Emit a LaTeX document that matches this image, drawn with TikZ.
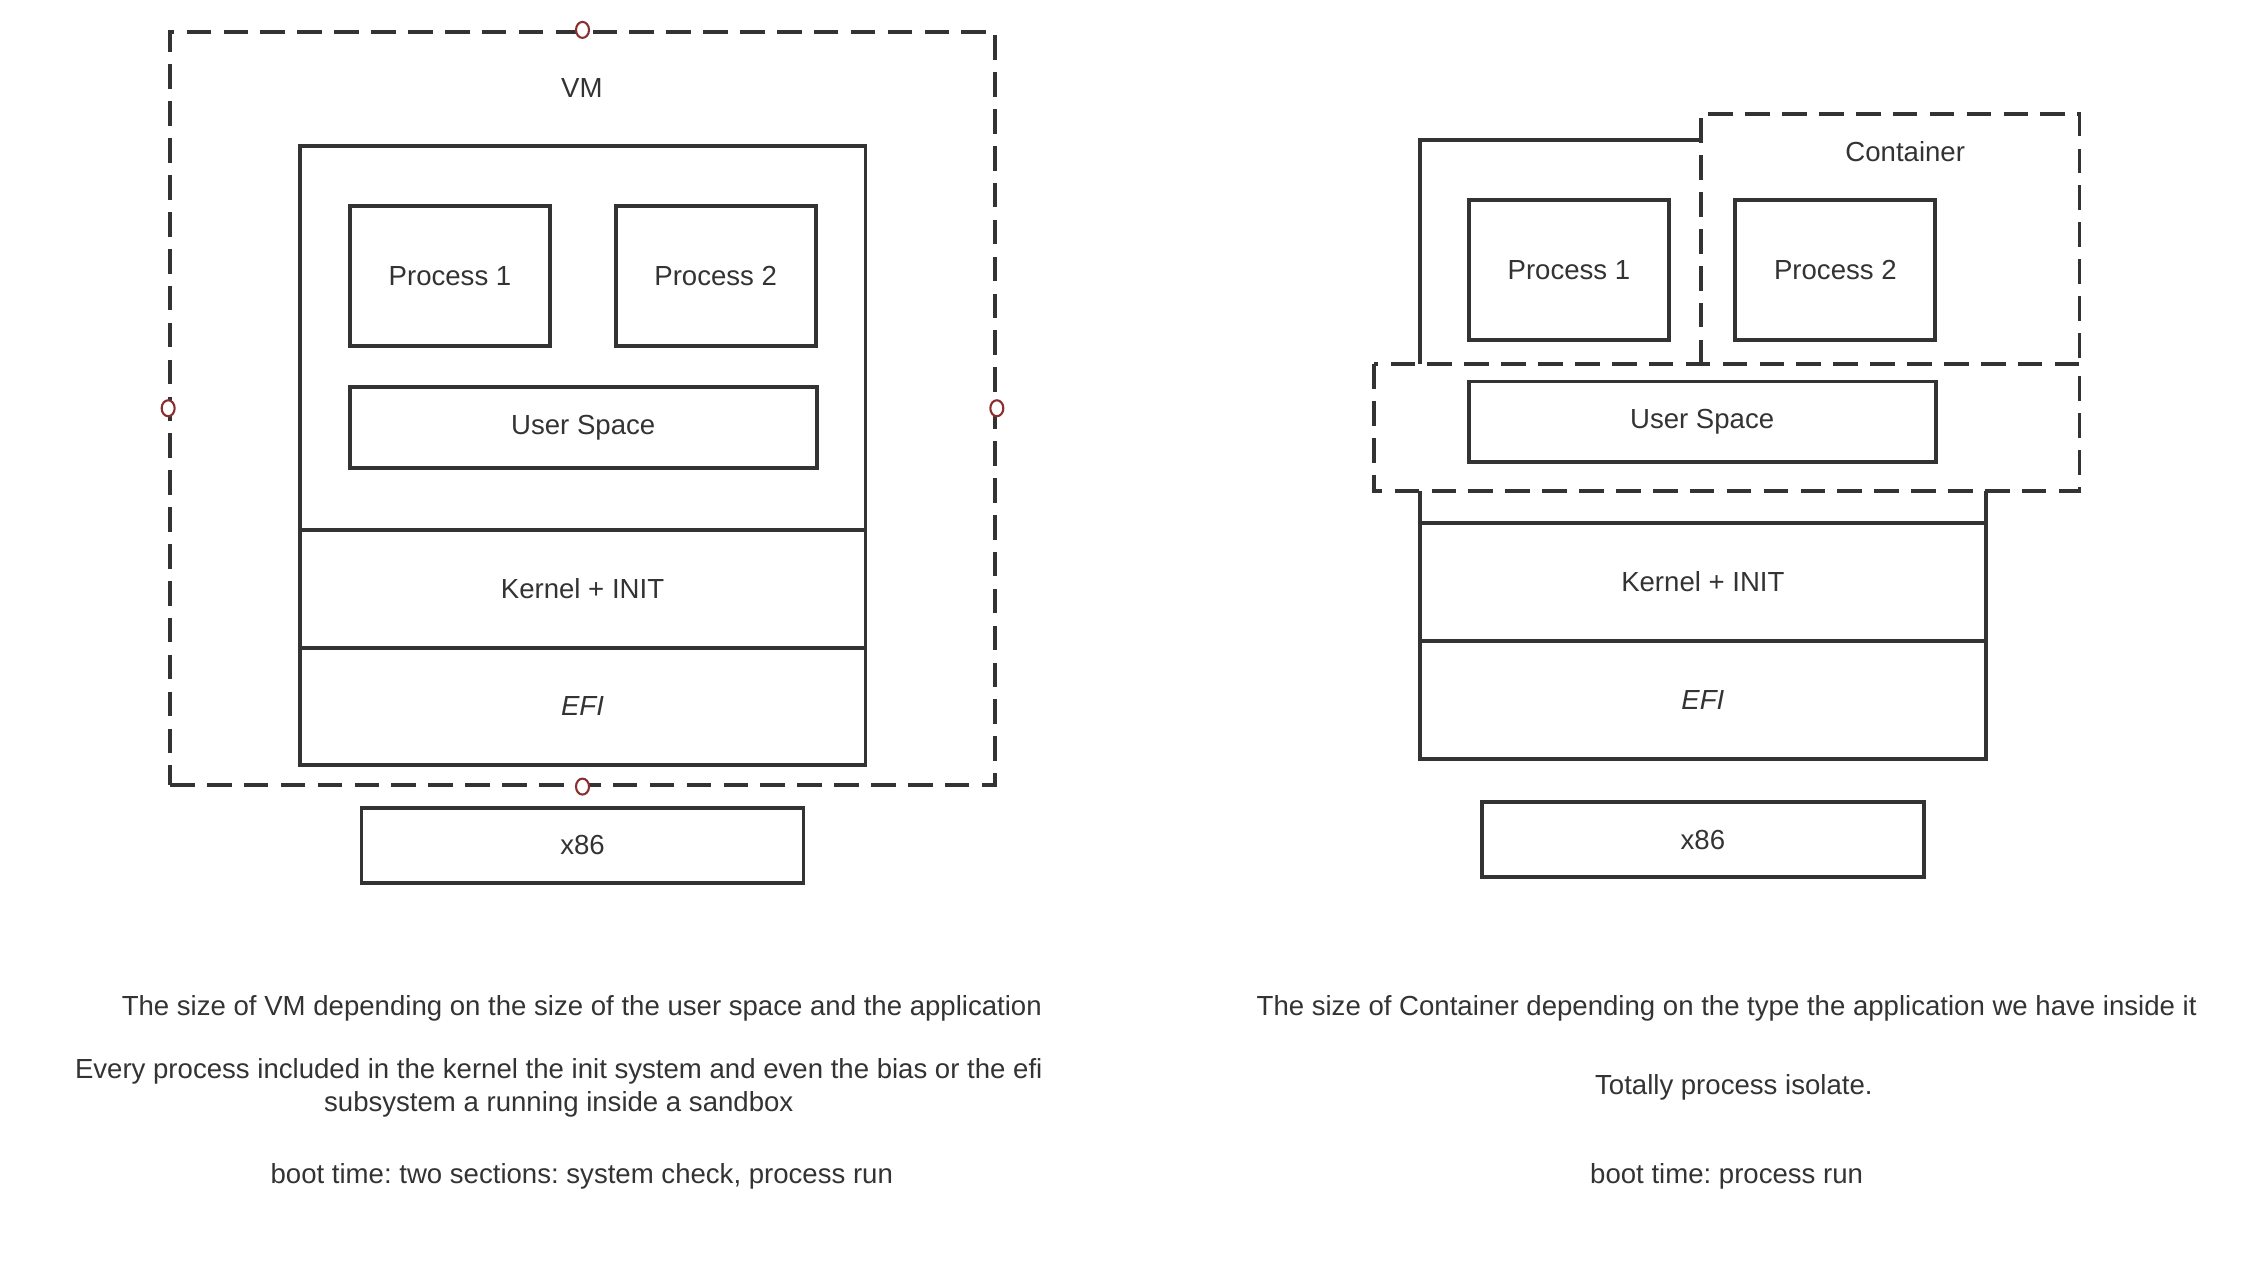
\documentclass[tikz,border=0pt]{standalone}
\usepackage{fontspec}
\setmainfont{Liberation Sans}
\frenchspacing
\usepackage{tikz}
\usetikzlibrary{shapes.geometric}
\definecolor{linegray}{HTML}{333333}
\definecolor{handlered}{HTML}{8B2E2E}
\tikzset{
  box/.style={draw=linegray, line width=1.1pt, rectangle, inner sep=0pt},
  dashbox/.style={draw=linegray, line width=1.1pt, dash pattern=on 7pt off 3.5pt},
  handle/.style={draw=handlered, fill=white, ellipse, line width=0.6pt, inner sep=0pt, minimum width=0.13cm, minimum height=0.16cm},
  txt/.style={text=linegray, font=\fontsize{7.85}{9.5}\selectfont, align=center}
}

\begin{document}
\begin{tikzpicture}[x=0.0144cm, y=-0.0144cm, every node/.style={txt}]
\useasboundingbox (0,0) rectangle (1568,889);

% VM side
\node[dashbox, minimum width=8.25cm, minimum height=7.53cm] (vm) at (404.5,283.5) {};
\node (vmlbl) at (404,61) {VM};
\node[box, minimum width=5.66cm, minimum height=3.84cm] (vos) at (404.5,234.5) {};
\node[box, minimum width=2.0cm, minimum height=1.40cm] (vp1) at (312.5,191.5) {Process 1};
\node[box, minimum width=2.0cm, minimum height=1.40cm] (vp2) at (497,191.5) {Process 2};
\node[box, minimum width=4.67cm, minimum height=0.81cm] (vus) at (405,297) {User Space};
\node[box, minimum width=5.66cm, minimum height=1.18cm] (vkern) at (404.5,409) {Kernel + INIT};
\node[box, minimum width=5.66cm, minimum height=1.17cm] (vefi) at (404.5,490.5) {\itshape EFI};
\node[box, minimum width=4.42cm, minimum height=0.75cm] (vhw) at (404.5,587) {x86};
\node[handle] (hn) at (vm.north) {};
\node[handle] (hs) at (vm.south) {};
\node[handle] (hw) at (vm.west) {};
\node[handle] (he) at (vm.east) {};

% Container side
\draw[draw=linegray, line width=1.1pt] (986,253) -- (986,97) -- (1181,97);
\draw[draw=linegray, line width=1.1pt] (986,341) -- (986,363) (1379,341) -- (1379,363);
\draw[dashbox] (1181,253) -- (1181,79) -- (1444,79) -- (1444,253);
\draw[dashbox] (954,253) rectangle (1444,341);
\node (ctlbl) at (1323,105) {Container};
\node[box, minimum width=2.0cm, minimum height=1.40cm] (cp1) at (1089.5,187.5) {Process 1};
\node[box, minimum width=2.0cm, minimum height=1.40cm] (cp2) at (1274.5,187.5) {Process 2};
\node[box, minimum width=4.67cm, minimum height=0.81cm] (cus) at (1182,293) {User Space};
\node[box, minimum width=5.66cm, minimum height=1.18cm] (ckern) at (1182.5,404) {Kernel + INIT};
\node[box, minimum width=5.66cm, minimum height=1.18cm] (cefi) at (1182.5,486) {\itshape EFI};
\node[box, minimum width=4.42cm, minimum height=0.75cm] (chw) at (1182.5,583) {x86};

% notes
\node (vnote1) at (404,700) {The size of VM depending on the size of the user space and the application};
\node (vnote2) at (388,755.5) {Every process included in the kernel the init system and even the bias or the efi\\subsystem a running inside a sandbox};
\node (vnote3) at (404,817) {boot time: two sections: system check, process run};
\node (cnote1) at (1199,700) {The size of Container depending on the type the application we have inside it};
\node (cnote2) at (1204,755) {Totally process isolate.};
\node (cnote3) at (1199,817) {boot time: process run};
\end{tikzpicture}
\end{document}
